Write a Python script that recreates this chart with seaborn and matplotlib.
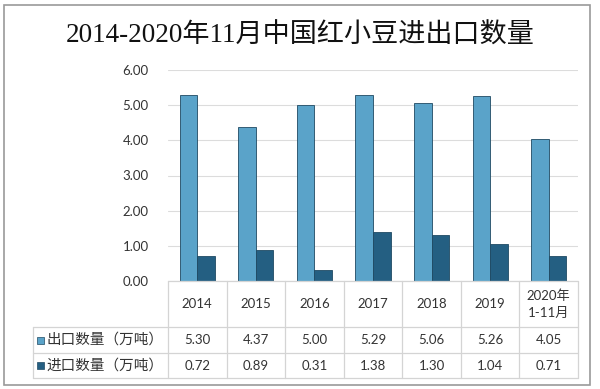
import matplotlib.pyplot as plt
import matplotlib.patches as mpatches
import matplotlib.lines as mlines
import seaborn as sns
import pandas as pd

# Data
years = ["2014", "2015", "2016", "2017", "2018", "2019", "2020年\n1-11月"]
exports = [5.30, 4.37, 5.00, 5.29, 5.06, 5.26, 4.05]
imports = [0.72, 0.89, 0.31, 1.38, 1.30, 1.04, 0.71]
series_names = ["出口数量（万吨）", "进口数量（万吨）"]
colors = ["#5aa3c9", "#245f82"]

df = pd.DataFrame({
    "year": years * 2,
    "value": exports + imports,
    "series": [series_names[0]] * len(years) + [series_names[1]] * len(years),
})

sns.set_style("white")
plt.rcParams["font.family"] = ["Lato", "Noto Sans CJK SC", "DejaVu Sans"]

W, H = 600, 389
fig = plt.figure(figsize=(W / 100, H / 100), dpi=100)

def fx(px):
    return px / W

def fy(py):
    return 1 - py / H

# plot area
left, right, top, bottom = 168, 578, 70, 281
ax = fig.add_axes([fx(left), fy(bottom), fx(right - left), fy(top) - fy(bottom)])
sns.barplot(data=df, x="year", y="value", hue="series", palette=colors, saturation=1,
            width=0.6, gap=0, edgecolor="#1f4a63", linewidth=0.6, ax=ax, legend=False)
ax.set_ylim(0, 6)
ax.set_xlim(-0.5, len(years) - 0.5)
ax.set_yticks([0, 1, 2, 3, 4, 5, 6])
ax.set_yticklabels([f"{v:.2f}" for v in [0, 1, 2, 3, 4, 5, 6]], fontsize=9.5, color="#333333")
ax.tick_params(axis="y", length=0, pad=14)
ax.set_xticks([])
ax.set_xlabel("")
ax.set_ylabel("")
ax.yaxis.grid(True, color="#dcdcdc", linewidth=0.8)
ax.set_axisbelow(True)
for s in ax.spines.values():
    s.set_visible(False)

# title
fig.text(0.5, fy(36), "2014-2020年11月中国红小豆进出口数量", ha="center", va="center",
         fontsize=19.5, family=["Liberation Serif", "Noto Sans CJK SC"], color="#111111")

# outer border
fig.patches.append(mpatches.Rectangle((fx(4), fy(385)), fx(586), fy(5) - fy(385),
                                      transform=fig.transFigure, fill=False,
                                      edgecolor="#9a9a9a", linewidth=1.2))

# data table
line_c = "#d4d4d4"
row_y = [281, 327, 353, 378]
label_left = 33
n = len(years)
colw = (right - left) / n

def hline(x0, x1, y):
    fig.lines.append(mlines.Line2D([fx(x0), fx(x1)], [fy(y), fy(y)], transform=fig.transFigure,
                                   color=line_c, linewidth=0.9))

def vline(x, y0, y1):
    fig.lines.append(mlines.Line2D([fx(x), fx(x)], [fy(y0), fy(y1)], transform=fig.transFigure,
                                   color=line_c, linewidth=0.9))

hline(left, right, row_y[0])
for y in row_y[1:]:
    hline(label_left, right, y)
vline(label_left, row_y[1], row_y[3])
for i in range(n + 1):
    vline(left + i * colw, row_y[0], row_y[3])

for i, yr in enumerate(years):
    cx = fx(left + (i + 0.5) * colw)
    fig.text(cx, fy((row_y[0] + row_y[1]) / 2), yr, ha="center", va="center",
             fontsize=9.5, color="#333333", linespacing=1.5)
    fig.text(cx, fy((row_y[1] + row_y[2]) / 2), f"{exports[i]:.2f}", ha="center", va="center",
             fontsize=9.5, color="#333333")
    fig.text(cx, fy((row_y[2] + row_y[3]) / 2), f"{imports[i]:.2f}", ha="center", va="center",
             fontsize=9.5, color="#333333")

for j, name in enumerate(series_names):
    yc = (row_y[j + 1] + row_y[j + 2]) / 2
    fig.patches.append(mpatches.Rectangle((fx(37), fy(yc + 3.5)), fx(7), fy(yc - 3.5) - fy(yc + 3.5),
                                          transform=fig.transFigure, facecolor=colors[j],
                                          edgecolor="#1f4a63", linewidth=0.5))
    fig.text(fx(46), fy(yc), name, ha="left", va="center", fontsize=10.5, color="#333333")

fig.savefig("out.png", dpi=100)
